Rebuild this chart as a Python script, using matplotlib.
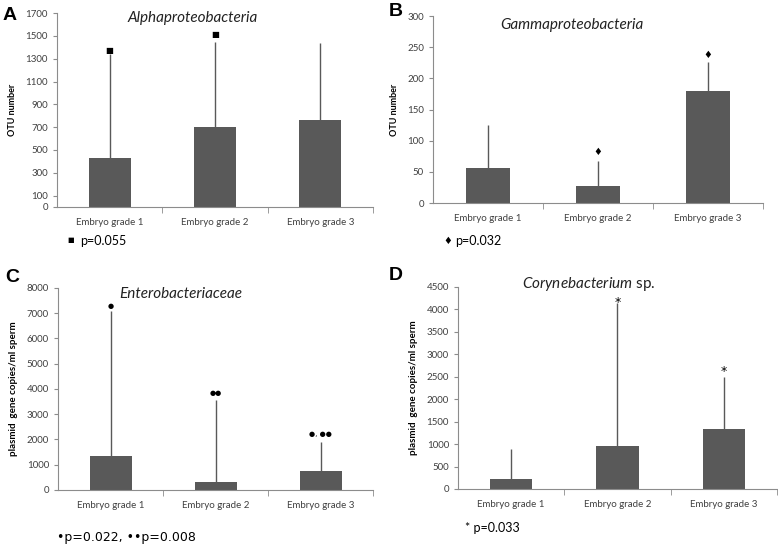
import numpy as np
import matplotlib
matplotlib.use('Agg')
import matplotlib.pyplot as plt

plt.rcParams['font.family'] = ['Lato', 'DejaVu Sans']
plt.rcParams['mathtext.fontset'] = 'custom'
plt.rcParams['mathtext.it'] = 'Lato:italic'
plt.rcParams['mathtext.rm'] = 'Lato'

groups = ['Embryo grade 1', 'Embryo grade 2', 'Embryo grade 3']

# A - Alphaproteobacteria (OTU number)
alpha_mean = [425, 700, 760]
alpha_sd = [915, 750, 680]
alpha_sig = ['\u25a0', '\u25a0', '']
alpha_sig_y = [1370, 1510, 0]

# B - Gammaproteobacteria (OTU number)
gamma_mean = [57, 27, 180]
gamma_sd = [68, 40, 46]
gamma_sig = ['', '\u2666', '\u2666']
gamma_sig_y = [0, 82, 237]

# C - Enterobacteriaceae (plasmid gene copies/ml sperm)
entero_mean = [1350, 320, 760]
entero_sd = [5750, 3260, 1140]
entero_sig = ['\u25cf', '\u25cf\u25cf', '\u25cf, \u25cf\u25cf']
entero_sig_y = [7300, 3850, 2200]

# D - Corynebacterium sp. (plasmid gene copies/ml sperm)
coryne_mean = [230, 960, 1340]
coryne_sd = [670, 3190, 1160]
coryne_sig = ['', '*', '*']
coryne_sig_y = [0, 4150, 2620]

bar_col = '#595959'
axis_col = '#8c8c8c'
text_col = '#404040'

fig = plt.figure(figsize=(7.78, 5.46), dpi=100)


def panel(rect, means, sd, sig, sig_y, ymax, yticks, ylabel, sig_size, ylab_size):
    ax = fig.add_axes(rect)
    x = np.arange(len(means))
    ax.bar(x, means, width=0.4, color=bar_col, zorder=2)
    ax.errorbar(x, means, yerr=[np.zeros(len(means)), sd], fmt='none',
                ecolor=bar_col, elinewidth=1.0, capsize=0, zorder=1)
    for xi, s, yy in zip(x, sig, sig_y):
        if s:
            ax.text(xi, yy, s, ha='center', va='center', fontsize=sig_size,
                    color='black', family=['DejaVu Sans'])
    ax.set_xlim(-0.5, len(means) - 0.5)
    ax.set_ylim(0, ymax)
    ax.set_yticks(yticks)
    ax.set_xticks(x)
    ax.set_xticklabels(groups)
    ax.set_xticks([0.5, 1.5, 2.5], minor=True)
    ax.tick_params(axis='x', which='major', length=0, labelsize=7,
                   labelcolor=text_col, pad=8)
    ax.tick_params(axis='x', which='minor', length=4, color=axis_col,
                   direction='out')
    ax.tick_params(axis='y', length=3, color=axis_col, labelsize=7,
                   labelcolor=text_col, direction='out')
    for side in ['top', 'right']:
        ax.spines[side].set_visible(False)
    for side in ['left', 'bottom']:
        ax.spines[side].set_color(axis_col)
        ax.spines[side].set_linewidth(0.8)
    ax.set_ylabel(ylabel, fontsize=ylab_size, fontweight='bold', color='black',
                  labelpad=6)
    return ax


axA = panel([0.0733, 0.621, 0.406, 0.355], alpha_mean, alpha_sd, alpha_sig,
            alpha_sig_y, 1700, [0, 100, 300, 500, 700, 900, 1100, 1300, 1500, 1700],
            'OTU number', 6, 6.5)
axA.text(0.43, 0.975, 'Alphaproteobacteria', transform=axA.transAxes,
         ha='center', va='center', fontsize=11, style='italic', color='#222222')

axB = panel([0.5566, 0.628, 0.424, 0.3425], gamma_mean, gamma_sd, gamma_sig,
            gamma_sig_y, 300, [0, 50, 100, 150, 200, 250, 300],
            'OTU number', 7, 6.5)
axB.text(0.42, 0.955, 'Gammaproteobacteria', transform=axB.transAxes,
         ha='center', va='center', fontsize=11, style='italic', color='#222222')

axC = panel([0.0746, 0.1026, 0.405, 0.37], entero_mean, entero_sd, entero_sig,
            entero_sig_y, 8000, np.arange(0, 8001, 1000),
            'plasmid  gene copies/ml sperm', 5, 7)
axC.text(0.39, 0.97, 'Enterobacteriaceae', transform=axC.transAxes,
         ha='center', va='center', fontsize=11, style='italic', color='#222222')

axD = panel([0.5887, 0.1044, 0.41, 0.37], coryne_mean, coryne_sd, coryne_sig,
            coryne_sig_y, 4500, np.arange(0, 4501, 500),
            'plasmid  gene copies/ml sperm', 9, 7)
axD.text(0.41, 1.015, r'$\it{Corynebacterium}$ sp.', transform=axD.transAxes,
         ha='center', va='center', fontsize=11, color='#222222')

# panel letters
for lx, ly, lab in [(10, 15, 'A'), (396, 12, 'B'), (12, 278, 'C'), (396, 276, 'D')]:
    fig.text(lx / 778, 1 - ly / 546, lab, fontsize=14, fontweight='bold',
             ha='center', va='center', family=['Liberation Sans', 'DejaVu Sans'])

# footnotes
fig.text(67 / 778, 1 - 240 / 546, '\u25a0', fontsize=5, va='center',
         family=['DejaVu Sans'])
fig.text(80 / 778, 1 - 241 / 546, 'p=0.055', fontsize=9, va='center')
fig.text(443 / 778, 1 - 241 / 546, '\u2666', fontsize=7, va='center',
         family=['DejaVu Sans'])
fig.text(455 / 778, 1 - 241 / 546, 'p=0.032', fontsize=9, va='center')
fig.text(57 / 778, 1 - 537 / 546,
         '\u2022p=0.022, \u2022\u2022p=0.008', fontsize=9, va='center',
         family=['DejaVu Sans'])
fig.text(465 / 778, 1 - 528 / 546, '* p=0.033', fontsize=9, va='center')

plt.savefig('out.png', dpi=100)
